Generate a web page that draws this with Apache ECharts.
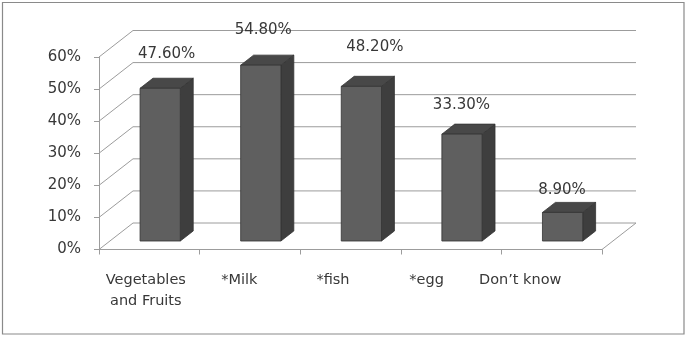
<!DOCTYPE html>
<html><head><meta charset="utf-8">
<script src="https://cdn.jsdelivr.net/npm/echarts@6/dist/echarts.min.js"></script>
<style>html,body{margin:0;padding:0;background:#fff}#c{width:688px;height:338px}</style>
</head><body><div id="c"></div>
<script>
// ---- data ----
const categories = ['Vegetables\nand Fruits', '*Milk', '*fish', '*egg', 'Don\u2019t know'];
const values = [47.6, 54.8, 48.2, 33.3, 8.9];
const yTicks = [0, 10, 20, 30, 40, 50, 60];

// ---- styling / 3D geometry ----
const DEPTH = [34, -26.5];          // px offset from front plane to back wall
const BAR_T0 = 0.32, BAR_T1 = 0.70; // bar depth span (fraction of depth)
const BAR_W = 0.4;                  // bar width as fraction of band
const labelNudge = [[0, -29], [-4, -30], [7, -34], [-7, -24], [-7, -17]];
const FONT = 'DejaVu Sans';
const GRID_COLOR = '#9c9c9c';
const TEXT_COLOR = '#383838';

const chart = echarts.init(document.getElementById('c'), null, { renderer: 'canvas' });

function wallItem(params, api) {
  const v = api.value(1);
  const bw = api.size([1, 0])[0];
  const p0 = api.coord([0, v]);
  const left = p0[0] - bw / 2;
  const right = api.coord([categories.length - 1, v])[0] + bw / 2;
  const y = p0[1];
  const children = [{
    type: 'polyline',
    shape: { points: [[left, y], [left + DEPTH[0], y + DEPTH[1]], [right + DEPTH[0], y + DEPTH[1]]] },
    style: { stroke: GRID_COLOR, lineWidth: 1, fill: null }
  }];
  if (v === 0) {
    children.push({
      type: 'line',
      shape: { x1: right, y1: y, x2: right + DEPTH[0], y2: y + DEPTH[1] },
      style: { stroke: GRID_COLOR, lineWidth: 1 }
    });
  }
  return { type: 'group', children };
}

function barItem(params, api) {
  const i = api.value(0), v = api.value(1);
  const base = api.coord([i, 0]);
  const top = api.coord([i, v]);
  const bw = api.size([1, 0])[0];
  const w = bw * BAR_W;
  const ox = DEPTH[0] * BAR_T0, oy = DEPTH[1] * BAR_T0;
  const bx = DEPTH[0] * (BAR_T1 - BAR_T0), by = DEPTH[1] * (BAR_T1 - BAR_T0);
  const x0 = base[0] - w / 2 + ox, x1 = x0 + w;
  const yb = base[1] + oy, yt = top[1] + oy;
  const edge = '#333333';
  const n = labelNudge[i] || [0, -25];
  return {
    type: 'group',
    children: [
      { type: 'polygon', shape: { points: [[x1, yt], [x1 + bx, yt + by], [x1 + bx, yb + by], [x1, yb]] },
        style: { fill: '#3e3e3e', stroke: edge, lineWidth: 0.8 } },
      { type: 'polygon', shape: { points: [[x0, yt], [x0 + bx, yt + by], [x1 + bx, yt + by], [x1, yt]] },
        style: { fill: '#484848', stroke: edge, lineWidth: 0.8 } },
      { type: 'rect', shape: { x: x0, y: yt, width: w, height: yb - yt },
        style: { fill: '#5f5f5f', stroke: edge, lineWidth: 0.8 } },
      { type: 'text', x: (x0 + x1) / 2 + bx / 2 + n[0], y: yt + by / 2 + n[1],
        style: { text: v.toFixed(2) + '%', fill: TEXT_COLOR, font: '15px "' + FONT + '"',
          align: 'center', verticalAlign: 'middle' } }
    ]
  };
}

chart.setOption({
  animation: false,
  backgroundColor: '#ffffff',
  textStyle: { fontFamily: FONT },
  grid: [
    { left: 99, top: 57, width: 503, height: 192.5 },
    { left: 99, top: 57, width: 468, height: 192.5 }
  ],
  xAxis: [
    { type: 'category', gridIndex: 0, data: categories, boundaryGap: true,
      axisLine: { show: true, lineStyle: { color: GRID_COLOR, width: 1 } },
      axisTick: { show: true, length: 5, alignWithLabel: false, lineStyle: { color: GRID_COLOR } },
      axisLabel: { show: false } },
    { type: 'category', gridIndex: 1, data: categories, boundaryGap: true,
      axisLine: { show: false }, axisTick: { show: false },
      axisLabel: { show: true, interval: 0, margin: 20, color: TEXT_COLOR, fontSize: 14.5,
        fontFamily: FONT, lineHeight: 21 } }
  ],
  yAxis: [
    { type: 'value', gridIndex: 0, min: 0, max: 60, interval: 10,
      axisLine: { show: true, lineStyle: { color: GRID_COLOR, width: 1 } },
      axisTick: { show: true, length: 5, lineStyle: { color: GRID_COLOR } },
      splitLine: { show: false },
      axisLabel: { formatter: '{value}%', margin: 18, color: TEXT_COLOR, fontSize: 15, fontFamily: FONT } },
    { type: 'value', gridIndex: 1, min: 0, max: 60, show: false }
  ],
  series: [
    { type: 'custom', name: 'wall', xAxisIndex: 0, yAxisIndex: 0, renderItem: wallItem,
      data: yTicks.map(v => [0, v]), silent: true, z: 1 },
    { type: 'custom', name: 'bars', xAxisIndex: 0, yAxisIndex: 0, renderItem: barItem,
      data: values.map((v, i) => [i, v]), z: 3 }
  ],
  graphic: [
    { type: 'rect', shape: { x: 2.5, y: 2.5, width: 681.5, height: 331.5 },
      style: { fill: null, stroke: '#8a8a8a', lineWidth: 1.2 }, z: 0 }
  ]
});
</script>
</body></html>
